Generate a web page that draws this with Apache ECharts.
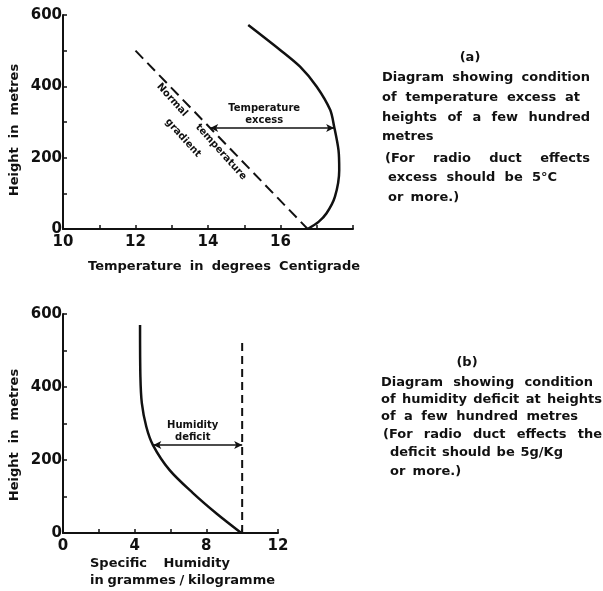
<!DOCTYPE html>
<html>
<head>
<meta charset="utf-8">
<script src="https://cdn.jsdelivr.net/npm/echarts@6/dist/echarts.min.js"></script>
<style>
  html, body { margin: 0; padding: 0; background: #fff; }
  #chart { width: 603px; height: 591px; }
</style>
</head>
<body>
<div id="chart"></div>
<script>
// (a) Temperature profile: height (m) vs temperature (°C)
const tempHeight = [0, 20, 44, 90, 165, 221, 287, 334, 399, 455, 502, 572];
const tempActual = [16.75, 17.05, 17.27, 17.5, 17.62, 17.6, 17.48, 17.37, 17.0, 16.54, 15.99, 15.11];
// Normal lapse-rate line (temperature, height)
const gradTemp = [12, 16.75];
const gradHeight = [500, 0];
// Temperature-excess arrow
const excessHeight = 283;
const excessFrom = 14.06;
const excessTo = 17.48;

// (b) Humidity profile: height (m) vs specific humidity (g/kg)
const humHeight = [0, 52, 110, 173, 241, 291, 356, 428, 570];
const humActual = [9.95, 8.6, 7.24, 5.94, 5.02, 4.65, 4.4, 4.32, 4.3];
// Saturation reference line
const satHumidity = [10, 10];
const satHeight = [0, 532];
// Humidity-deficit arrow
const deficitHeight = 241;
const deficitFrom = 5.04;
const deficitTo = 10;

// Tick labels
const tempTickLabels = [10, 12, 14, 16];
const humTickLabels = [0, 4, 8, 12];
const heightTickLabels = [0, 200, 400, 600];

const FONT = '"DejaVu Sans"';
const INK = '#111';

const zip = (xs, ys) => xs.map((x, i) => [x, ys[i]]);

const measureCtx = document.createElement('canvas').getContext('2d');
function textWidth(t, size) {
  measureCtx.font = 'bold ' + size + 'px ' + FONT;
  return measureCtx.measureText(t).width;
}
// Lay out one line of words, spread evenly between x0 and x1 (or left-aligned at x0)
function lineText(str, x0, x1, y, size) {
  const words = str.split(' ');
  const out = [];
  let gap = textWidth(' ', size) * 1.6;
  if (x1 != null && words.length > 1) {
    const total = words.reduce((s, w) => s + textWidth(w, size), 0);
    gap = (x1 - x0 - total) / (words.length - 1);
  }
  let x = x0;
  words.forEach(w => {
    out.push({
      type: 'text', x: x, y: y,
      style: { text: w, font: 'bold ' + size + 'px ' + FONT, fill: INK, align: 'left', verticalAlign: 'middle' }
    });
    x += textWidth(w, size) + gap;
  });
  return out;
}
function rotText(str, x, y, size, deg) {
  return {
    type: 'text', x: x, y: y, rotation: deg * Math.PI / 180,
    style: { text: str, font: 'bold ' + size + 'px ' + FONT, fill: INK, align: 'center', verticalAlign: 'middle' }
  };
}

const noteA = [
  ['(a)', 'center', 470, 58],
  ['Diagram showing condition', 382, 590, 78],
  ['of temperature excess at', 382, 580, 98],
  ['heights of a few hundred', 382, 590, 118],
  ['metres', 382, null, 137],
  ['(For radio duct effects', 385, 590, 159],
  ['excess should be 5°C', 388, 557, 178],
  ['or more.)', 388, null, 198]
];
const noteB = [
  ['(b)', 'center', 467, 363],
  ['Diagram showing condition', 381, 593, 383],
  ['of humidity deficit at heights', 381, 602, 400],
  ['of a few hundred metres', 381, 578, 417],
  ['(For radio duct effects the', 383, 602, 435],
  ['deficit should be 5g/Kg', 390, 563, 453],
  ['or more.)', 390, null, 472]
];

const graphics = [];
[noteA, noteB].forEach(note => note.forEach(([t, a, b, y]) => {
  if (a === 'center') {
    graphics.push({ type: 'text', x: b, y: y,
      style: { text: t, font: 'bold 13px ' + FONT, fill: INK, align: 'center', verticalAlign: 'middle' } });
  } else {
    graphics.push(...lineText(t, a, b, y, 13));
  }
}));

// Axis titles
graphics.push(rotText('Height  in  metres', 15, 130, 13, 90));
graphics.push(...lineText('Temperature in degrees Centigrade', 88, 360, 267, 13));
graphics.push(rotText('Height  in  metres', 15, 435, 13, 90));
graphics.push(...lineText('Specific Humidity', 90, 230, 564, 13));
graphics.push(...lineText('in grammes / kilogramme', 90, 275, 581, 13));

// Label along the normal gradient line
graphics.push(rotText('Normal', 172, 100, 10, -48));
graphics.push(rotText('temperature', 221, 152, 10, -48));
graphics.push(rotText('gradient', 183, 138, 10, -48));

const axisCommon = {
  type: 'value',
  axisLine: { show: true, lineStyle: { color: INK, width: 2 } },
  axisTick: { show: true, inside: true, length: 4, lineStyle: { color: INK, width: 1.5 } },
  splitLine: { show: false },
  axisLabel: { color: INK, fontFamily: FONT, fontWeight: 'bold', fontSize: 15 }
};
const pick = (list) => (v) => (list.includes(v) ? String(v) : '');

const yAxisFor = (g) => Object.assign({}, axisCommon, {
  gridIndex: g, min: 0, max: 600, interval: 100,
  axisLabel: Object.assign({}, axisCommon.axisLabel, { margin: 1, formatter: pick(heightTickLabels) })
});

const arrowLine = (y, x0, x1, text, shift) => ({
  silent: true,
  symbol: ['arrow', 'arrow'],
  symbolSize: [6, 8],
  lineStyle: { color: INK, width: 1.5, type: 'solid' },
  label: {
    show: true, position: 'middle', formatter: text, color: INK,
    fontFamily: FONT, fontWeight: 'bold', fontSize: 10, lineHeight: 12, distance: 2,
    offset: [shift, 0]
  },
  data: [[{ coord: [x0, y] }, { coord: [x1, y] }]]
});

const option = {
  backgroundColor: '#fff',
  animation: false,
  grid: [
    { left: 63, top: 15, width: 290, height: 214 },
    { left: 63, top: 314, width: 215, height: 219 }
  ],
  xAxis: [
    Object.assign({}, axisCommon, {
      gridIndex: 0, min: 10, max: 18, interval: 1,
      axisLabel: Object.assign({}, axisCommon.axisLabel, { margin: 6, formatter: pick(tempTickLabels) })
    }),
    Object.assign({}, axisCommon, {
      gridIndex: 1, min: 0, max: 12, interval: 2,
      axisLabel: Object.assign({}, axisCommon.axisLabel, { margin: 6, formatter: pick(humTickLabels) })
    })
  ],
  yAxis: [yAxisFor(0), yAxisFor(1)],
  series: [
    {
      type: 'line', xAxisIndex: 0, yAxisIndex: 0,
      data: zip(tempActual, tempHeight), smooth: 0.3,
      showSymbol: false, lineStyle: { color: INK, width: 2.5 }
    },
    {
      type: 'line', xAxisIndex: 0, yAxisIndex: 0,
      data: zip(gradTemp, gradHeight),
      showSymbol: false, lineStyle: { color: INK, width: 2, type: [11, 6] },
      markLine: arrowLine(excessHeight, excessFrom, excessTo, 'Temperature\nexcess', -8)
    },
    {
      type: 'line', xAxisIndex: 1, yAxisIndex: 1,
      data: zip(humActual, humHeight), smooth: 0.3,
      showSymbol: false, lineStyle: { color: INK, width: 2.5 }
    },
    {
      type: 'line', xAxisIndex: 1, yAxisIndex: 1,
      data: zip(satHumidity, satHeight),
      showSymbol: false, lineStyle: { color: INK, width: 2, type: [8, 5] },
      markLine: arrowLine(deficitHeight, deficitFrom, deficitTo, 'Humidity\ndeficit', -5)
    }
  ],
  graphic: graphics
};

const chart = echarts.init(document.getElementById('chart'), null, { renderer: 'canvas' });
chart.setOption(option);
</script>
</body>
</html>
